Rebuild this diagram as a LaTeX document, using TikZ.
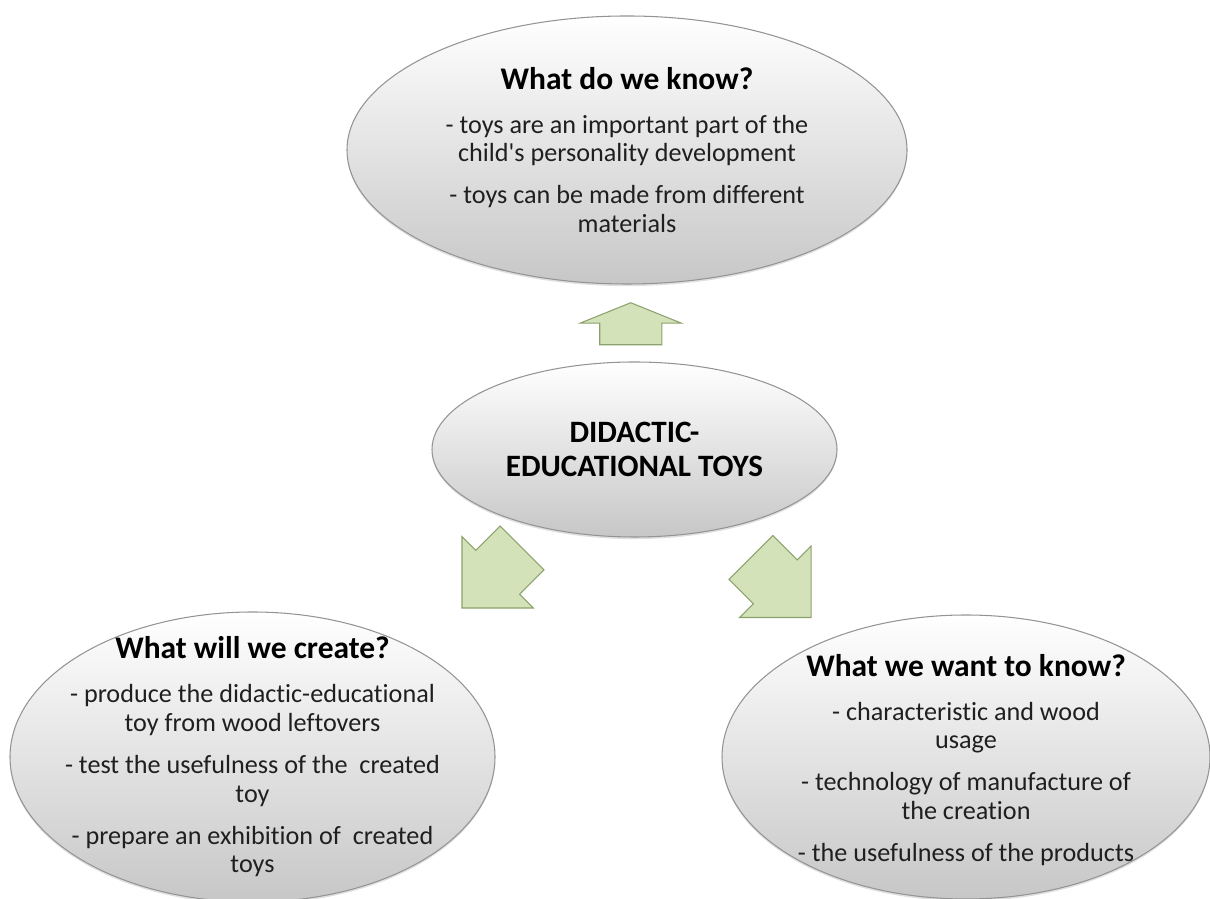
\documentclass[tikz,border=0pt]{standalone}
\usepackage{fontspec}
\setmainfont{Carlito}[Ligatures=NoCommon]
\usepackage{tikz}
\usepackage{xcolor}
\usetikzlibrary{shapes.arrows}
\usetikzlibrary{shapes.geometric}
\usetikzlibrary{shadows}
\usetikzlibrary{calc}
\definecolor{arrowfill}{RGB}{212,226,186}
\definecolor{arrowedge}{RGB}{140,162,108}
\newcommand{\hd}[1]{{\fontsize{17.9}{20}\selectfont\bfseries\color{black}#1}}
\newcommand{\apos}{\XeTeXglyph\XeTeXcharglyph"0027\relax}

\begin{document}
\begin{tikzpicture}[
  bubble/.style={ellipse,inner sep=0,top color=white,middle color=black!3,bottom color=black!22,
    draw=black!42,line width=.6pt,
    drop shadow={opacity=.25,shadow xshift=0pt,shadow yshift=-1.2pt}},
  txt/.style={align=center,inner sep=0,text=black!88,font=\fontsize{14.9}{16.3}\selectfont},
  blk/.style={single arrow,inner xsep=0,inner ysep=.61cm,single arrow head extend=.39cm,
    fill=arrowfill,draw=arrowedge,line width=.6pt}
  ]
  \useasboundingbox (0,0) rectangle (24.2,17.96);
  \clip (0,0) rectangle (24.2,17.96);

  \node (wk) [bubble,minimum width=11.2cm,minimum height=5.36cm] at (12.54,14.96) {};
  \node (dt) [bubble,minimum width=8.1cm,minimum height=3.5cm,align=center,
    font=\fontsize{17.7}{19.3}\selectfont\bfseries] at (12.69,8.97) {DIDACTIC-\\ EDUCATIONAL TOYS};
  \node (wc) [bubble,minimum width=9.7cm,minimum height=5.8cm] at (5.05,2.82) {};
  \node (ww) [bubble,minimum width=9.76cm,minimum height=5.68cm] at (19.32,2.82) {};

  \node (wkt) [txt] at (wk) {\hd{What do we know?}\\[8.7pt]
    - toys are an important part of the\\ child\apos s personality development\\[7.6pt]
    - toys can be made from different\\ materials};
  \node (wct) [txt] at (wc) {\hd{What will we create?}\\[8.7pt]
    - produce the didactic-educational\\ toy from wood leftovers\\[7.6pt]
    - test the usefulness of the\ \ created\\ toy\\[7.6pt]
    - prepare an exhibition of\ \ created\\ toys};
  \node (wwt) [txt] at ($(ww)+(0,-.06)$) {\hd{What we want to know?}\\[8.7pt]
    - characteristic and wood\\ usage\\[7.6pt]
    - technology of manufacture of\\ the creation\\[7.6pt]
    - the usefulness of the products};

  \node (ua) [blk,rotate=90,minimum height=.84cm,single arrow tip angle=136]
    at ($(dt.north)!.5!(wk.south)+(0,-.14)$) {};
  \node (la) [blk,rotate=-135,minimum height=1.7cm,single arrow tip angle=90] at (10.06,6.62) {};
  \node (ra) [blk,rotate=-45,minimum height=1.7cm,single arrow tip angle=90] at (15.4,6.43) {};
\end{tikzpicture}
\end{document}
